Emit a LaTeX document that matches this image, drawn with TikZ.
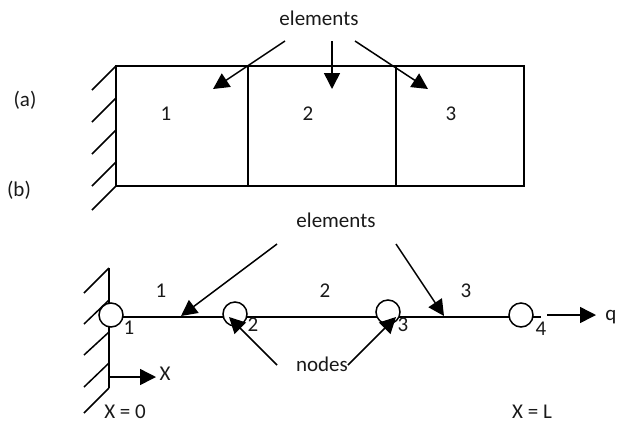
\documentclass[tikz,border=0pt]{standalone}
\usepackage{fontspec}
\setmainfont{Carlito}
\usetikzlibrary{arrows.meta}
\tikzset{
  x=1pt,y=-1pt,
  txt/.style={inner sep=0pt,font=\fontsize{21}{24}\selectfont,text=black!90},
  ln/.style={draw=black,line width=1.7pt},
  thin ln/.style={draw=black,line width=1.5pt},
  arr/.style={draw=black,line width=1.5pt,-{Triangle[length=16pt,width=16pt]},shorten >=0pt},
  joint/.style={circle,draw=black,line width=1.5pt,fill=white,minimum size=24pt,inner sep=0pt},
}
\begin{document}
\begin{tikzpicture}
\useasboundingbox (0,0) rectangle (617,424);
% upper beam
\coordinate (bA) at (116,66); \coordinate (bB) at (524,66);
\coordinate (bC) at (524,186); \coordinate (bD) at (116,186);
\coordinate (d1t) at (248,66); \coordinate (d1b) at (248,186);
\coordinate (d2t) at (396,66); \coordinate (d2b) at (396,186);
\draw[ln] (bA) -- (bB) -- (bC) -- (bD) -- cycle;
\draw[thin ln] (d1t) -- (d1b);
\draw[thin ln] (d2t) -- (d2b);
\foreach \y/\e in {66/90,98/122,130/154,162/186,186/210}{
  \draw[thin ln] (116,\y) -- (92,\e);
}
\node[txt] (ela) at (319,18) {elements};
\coordinate (a1s) at (285,41); \coordinate (a1e) at (213,89);
\coordinate (a2s) at (332,41); \coordinate (a2e) at (332,89);
\coordinate (a3s) at (355,41); \coordinate (a3e) at (428,89);
\draw[arr] (a1s) -- (a1e);
\draw[arr] (a2s) -- (a2e);
\draw[arr] (a3s) -- (a3e);
\node[txt] (t1) at (166,114) {1};
\node[txt] (t2) at (308,114) {2};
\node[txt] (t3) at (451,114) {3};
\node[txt] (la) at (25,100) {(a)};
\node[txt] (lb) at (19,190) {(b)};
% lower bar
\coordinate (wt) at (109,268); \coordinate (wb) at (109,388);
\draw[thin ln] (wt) -- (wb);
\foreach \y/\e in {268/293,300/324,332/355,363/387,388/413}{
  \draw[thin ln] (109,\y) -- (84,\e);
}
\coordinate (xs) at (109,377); \coordinate (xe) at (156,377);
\draw[arr] (xs) -- (xe);
\coordinate (n1c) at (111,317); \coordinate (n4e) at (541,317);
\draw[ln] (n1c) -- (n4e);
\node[joint] (n1) at (111,315) {};
\node[joint] (n2) at (235,314) {};
\node[joint] (n3) at (388,312) {};
\node[joint] (n4) at (521,315) {};
\node[txt] (el2) at (336,220) {elements};
\node[txt] (nd) at (322,364) {nodes};
\coordinate (b1s) at (277,244); \coordinate (b1e) at (181,316);
\coordinate (b2s) at (396,244); \coordinate (b2e) at (444,316);
\coordinate (c1s) at (277,365); \coordinate (c1e) at (229,317);
\coordinate (c2s) at (348,365); \coordinate (c2e) at (396,317);
\coordinate (qs) at (547,315); \coordinate (qe) at (596,315);
\draw[arr] (b1s) -- (b1e);
\draw[arr] (b2s) -- (b2e);
\draw[arr] (c1s) -- (c1e);
\draw[arr] (c2s) -- (c2e);
\draw[arr] (qs) -- (qe);
\node[txt] (e1) at (161,291) {1};
\node[txt] (e2) at (325,291) {2};
\node[txt] (e3) at (466,291) {3};
\node[txt] (k1) at (129,328) {1};
\node[txt] (k2) at (253,325) {2};
\node[txt] (k3) at (403,325) {3};
\node[txt] (k4) at (541,329) {4};
\node[txt,anchor=east] (lq) at (616.5,317) {q};
\node[txt] (lx) at (165,374) {X};
\node[txt] (x0) at (125,412) {X = 0};
\node[txt] (xl) at (532,412) {X = L};
\end{tikzpicture}
\end{document}
